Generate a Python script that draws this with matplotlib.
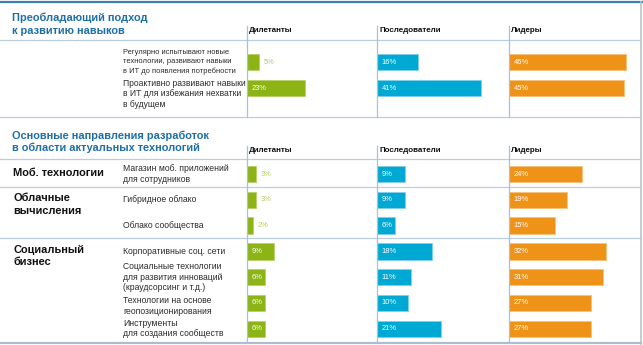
import matplotlib
matplotlib.use("Agg")
import matplotlib.pyplot as plt
from matplotlib.lines import Line2D
from matplotlib import transforms

plt.rcParams['font.family'] = ['Liberation Sans', 'DejaVu Sans']

# ---------------- DATA ----------------
groups = ["Дилетанты", "Последователи", "Лидеры"]

s1_title = ["Преобладающий подход", "к развитию навыков"]
s1_rows = ["Регулярно испытывают новые\nтехнологии, развивают навыки\nв ИТ до появления потребности",
           "Проактивно развивают навыки\nв ИТ для избежания нехватки\nв будущем"]
s1_dilet = [5, 23]
s1_follow = [16, 41]
s1_lead = [46, 45]

s2_title = ["Основные направления разработок", "в области актуальных технологий"]
s2_cats = ["Моб. технологии", "Облачные\nвычисления", "Социальный\nбизнес"]
s2_rows = ["Магазин моб. приложений\nдля сотрудников",
           "Гибридное облако",
           "Облако сообщества",
           "Корпоративные соц. сети",
           "Социальные технологии\nдля развития инноваций\n(краудсорсинг и т.д.)",
           "Технологии на основе\nгеопозиционирования",
           "Инструменты\nдля создания сообществ"]
s2_dilet = [3, 3, 2, 9, 6, 6, 6]
s2_follow = [9, 9, 6, 18, 11, 10, 21]
s2_lead = [24, 19, 15, 32, 31, 27, 27]

# ---------------- STYLE / LAYOUT ----------------
W, H = 643, 345
colors = ["#8cb414", "#00a9d4", "#ef9318"]
edge_colors = ["#b7d06a", "#7fd0e8", "#f6c27a"]
out_color = "#b3cc5c"
title_color = "#1f6fa6"
grid_color = "#b9cfe0"
col_x = [246.7, 377.3, 509.3]
col_right = 641.0

fig = plt.figure(figsize=(W / 100, H / 100), dpi=100)


def fx(x):
    return x / W


def fy(y):
    return 1 - y / H


def hline(y, x0=0, x1=641, color=grid_color, lw=0.9):
    fig.add_artist(Line2D([fx(x0), fx(x1)], [fy(y), fy(y)], color=color, lw=lw,
                          transform=fig.transFigure))


def vline(x, y0, y1, color="#a8c1d4", lw=0.9):
    fig.add_artist(Line2D([fx(x), fx(x)], [fy(y0), fy(y1)], color=color, lw=lw,
                          transform=fig.transFigure))


# frame
hline(1.5, 0, 642, color="#3f7fab", lw=1.6)
vline(640.5, 1.5, 344, color="#b7c3cc", lw=1.2)
hline(343.3, 0, 641, color="#a9bfcf", lw=1.6)

# section lines
hline(40)
hline(116.8)
hline(159)
hline(187)
hline(238)
for x in col_x:
    vline(x, 26, 116.8)
    vline(x, 146, 343)


def make_section(y_top, y_bot, row0, spacing, nrows, scale, values, rows_text,
                 header_y, row_offsets, row_fs, row_ls):
    axes = []
    for i, (vals, g) in enumerate(zip(values, groups)):
        x0 = col_x[i]
        x1 = col_x[i + 1] if i < 2 else col_right
        ax = fig.add_axes([fx(x0), fy(y_bot), (x1 - x0) / W, (y_bot - y_top) / H])
        ax.set_xlim(0, (x1 - x0) / scale)
        ax.set_ylim((y_bot - row0) / spacing, (y_top - row0) / spacing)
        ax.axis("off")
        ys = list(range(nrows))
        ax.barh(ys, vals, height=16.5 / spacing, color=colors[i],
                edgecolor=edge_colors[i], linewidth=0.6, left=0)
        for yv, v in zip(ys, vals):
            if v <= 5:
                ax.annotate(f"{v}%", (v, yv), xytext=(4.5, 0), textcoords="offset pixels",
                            va="center", ha="left", fontsize=5.4, color=out_color)
            else:
                ax.annotate(f"{v}%", (0, yv), xytext=(4.5, 0), textcoords="offset pixels",
                            va="center", ha="left", fontsize=5.4, color="white")
        fig.text(fx(x0 + 2), fy(header_y), g, fontsize=5.8, fontweight="bold",
                 va="center", ha="left", color="#111111")
        axes.append(ax)
    ax0 = axes[0]
    tr = transforms.blended_transform_factory(fig.transFigure, ax0.transData)
    for j, t in enumerate(rows_text):
        fig.text(fx(123), j + row_offsets[j], t, transform=tr, fontsize=row_fs[j],
                 va="center", ha="left", color="#2b2b2b", linespacing=row_ls[j])
    return axes


# Section 1
fig.text(fx(12), fy(17.3), s1_title[0], fontsize=7.95, fontweight="bold",
         color=title_color, va="center", ha="left")
fig.text(fx(12), fy(31), s1_title[1], fontsize=7.95, fontweight="bold",
         color=title_color, va="center", ha="left")
make_section(40, 116.8, 62, 26, 2, 2.54, [s1_dilet, s1_follow, s1_lead], s1_rows,
             30, [0, 0.23], [5.4, 6.15], [1.35, 1.2])

# Section 2
fig.text(fx(12), fy(136), s2_title[0], fontsize=7.95, fontweight="bold",
         color=title_color, va="center", ha="left")
fig.text(fx(12), fy(148), s2_title[1], fontsize=7.95, fontweight="bold",
         color=title_color, va="center", ha="left")
axes2 = make_section(159, 343, 174, 25.8, 7, 3.03, [s2_dilet, s2_follow, s2_lead], s2_rows,
                     151, [0, 0, 0, 0, 0, 0.12, 0], [6.2] * 7, [1.2] * 7)

# category labels
tr2 = transforms.blended_transform_factory(fig.transFigure, axes2[0].transData)
cat_pos = [-0.04, 1.18, 3.18]
for c, p in zip(s2_cats, cat_pos):
    fig.text(fx(13), p, c, transform=tr2, fontsize=7.9, fontweight="bold",
             va="center", ha="left", color="#111111", linespacing=1.3)

fig.savefig("out.png", dpi=100)
